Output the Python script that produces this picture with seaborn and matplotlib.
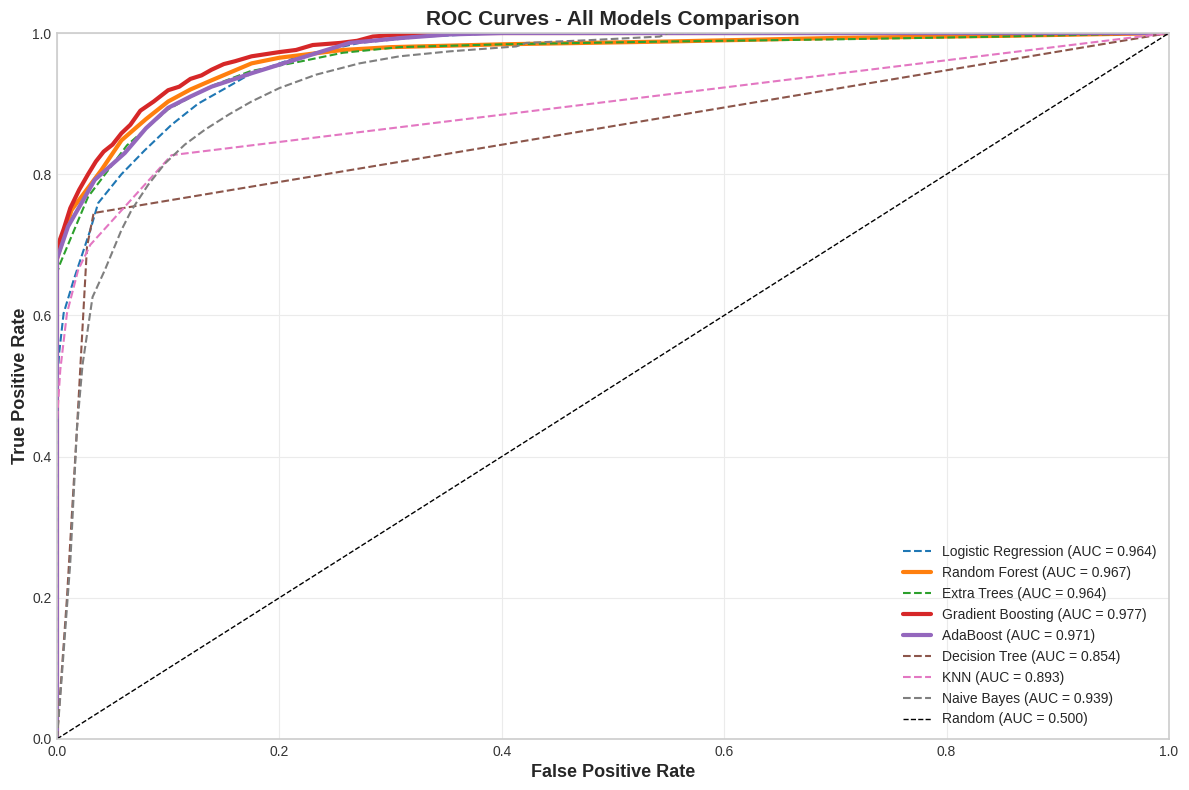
import numpy as np
import pandas as pd
import seaborn as sns
import matplotlib
matplotlib.use('Agg')
import matplotlib.pyplot as plt

# ROC points
lr_fpr = [0.0, 0.0, 0.002, 0.006, 0.015, 0.030, 0.037, 0.058, 0.079, 0.103, 0.127, 0.154, 0.175, 0.22, 0.272, 0.33, 0.40, 1.0]
lr_tpr = [0.0, 0.50, 0.547, 0.603, 0.650, 0.721, 0.759, 0.800, 0.834, 0.870, 0.900, 0.924, 0.943, 0.968, 0.986, 0.995, 1.0, 1.0]

rf_fpr = [0.0, 0.0, 0.013, 0.040, 0.058, 0.080, 0.100, 0.120, 0.139, 0.160, 0.175, 0.20, 0.257, 0.30, 0.40, 0.55, 0.70, 0.85, 1.0]
rf_tpr = [0.0, 0.68, 0.749, 0.806, 0.848, 0.878, 0.903, 0.920, 0.933, 0.947, 0.957, 0.965, 0.976, 0.980, 0.984, 0.988, 0.993, 0.996, 1.0]

et_fpr = [0.0, 0.0, 0.003, 0.028, 0.063, 0.100, 0.139, 0.174, 0.22, 0.257, 0.308, 0.40, 0.55, 0.70, 0.85, 1.0]
et_tpr = [0.0, 0.66, 0.674, 0.768, 0.841, 0.892, 0.925, 0.946, 0.960, 0.972, 0.980, 0.984, 0.988, 0.991, 0.995, 1.0]

gb_fpr = [0.0, 0.0, 0.001, 0.006, 0.012, 0.020, 0.028, 0.035, 0.042, 0.050, 0.058, 0.066, 0.075, 0.087, 0.100, 0.110, 0.120, 0.130, 0.139, 0.150, 0.160, 0.175, 0.200, 0.215, 0.230, 0.255, 0.270, 0.284, 0.31, 0.33, 1.0]
gb_tpr = [0.0, 0.69, 0.700, 0.722, 0.752, 0.778, 0.800, 0.818, 0.832, 0.842, 0.858, 0.870, 0.890, 0.903, 0.919, 0.924, 0.935, 0.940, 0.948, 0.956, 0.960, 0.967, 0.973, 0.976, 0.983, 0.986, 0.989, 0.995, 0.998, 1.0, 1.0]

ada_fpr = [0.0, 0.0, 0.010, 0.034, 0.061, 0.080, 0.100, 0.120, 0.139, 0.160, 0.175, 0.22, 0.263, 0.31, 0.353, 0.40, 1.0]
ada_tpr = [0.0, 0.68, 0.726, 0.792, 0.830, 0.865, 0.894, 0.910, 0.924, 0.935, 0.943, 0.965, 0.986, 0.993, 0.998, 1.0, 1.0]

dt_fpr = [0.0, 0.009, 0.018, 0.027, 0.033, 1.0]
dt_tpr = [0.0, 0.20, 0.44, 0.697, 0.745, 1.0]

knn_fpr = [0.0, 0.0, 0.003, 0.009, 0.019, 0.030, 0.103, 1.0]
knn_tpr = [0.0, 0.45, 0.523, 0.603, 0.664, 0.700, 0.827, 1.0]

nb_fpr = [0.0, 0.003, 0.012, 0.018, 0.023, 0.032, 0.043, 0.058, 0.067, 0.082, 0.097, 0.115, 0.133, 0.155, 0.175, 0.20, 0.233, 0.272, 0.308, 0.353, 0.413, 0.422, 0.48, 0.542, 0.55, 1.0]
nb_tpr = [0.0, 0.06, 0.25, 0.44, 0.53, 0.626, 0.664, 0.721, 0.749, 0.785, 0.815, 0.842, 0.863, 0.885, 0.903, 0.922, 0.941, 0.957, 0.967, 0.974, 0.981, 0.986, 0.990, 0.995, 1.0, 1.0]

rand_fpr = [0.0, 1.0]
rand_tpr = [0.0, 1.0]

models = ['Logistic Regression', 'Random Forest', 'Extra Trees', 'Gradient Boosting', 'AdaBoost',
          'Decision Tree', 'KNN', 'Naive Bayes', 'Random']
aucs = [0.964, 0.967, 0.964, 0.977, 0.971, 0.854, 0.893, 0.939, 0.500]
fprs = [lr_fpr, rf_fpr, et_fpr, gb_fpr, ada_fpr, dt_fpr, knn_fpr, nb_fpr, rand_fpr]
tprs = [lr_tpr, rf_tpr, et_tpr, gb_tpr, ada_tpr, dt_tpr, knn_tpr, nb_tpr, rand_tpr]

colors = ['tab:blue', 'tab:orange', 'tab:green', 'tab:red', 'tab:purple',
          'tab:brown', 'tab:pink', 'tab:gray', 'black']
styles = ['--', '-', '--', '-', '-', '--', '--', '--', '--']
widths = [1.5, 3, 1.5, 3, 3, 1.5, 1.5, 1.5, 1]

sns.set_style('whitegrid')
plt.rcParams['font.family'] = ['Liberation Sans', 'DejaVu Sans']

fig = plt.figure(figsize=(11.89, 7.90), dpi=100)
ax = fig.add_axes([0.0479, 0.0646, 0.9353, 0.8936])

for i, m in enumerate(models):
    df = pd.DataFrame({'fpr': fprs[i], 'tpr': tprs[i]})
    sns.lineplot(data=df, x='fpr', y='tpr', ax=ax, color=colors[i], linestyle=styles[i],
                 linewidth=widths[i], sort=False, estimator=None,
                 label=f'{m} (AUC = {aucs[i]:.3f})')

ax.set_xlim(0, 1)
ax.set_ylim(0, 1)
ax.grid(True, color='#ebebeb', linewidth=0.8)
for s in ax.spines.values():
    s.set_color('#cccccc')
    s.set_linewidth(1.2)
ax.tick_params(labelsize=10, colors='#333333', length=0, pad=4)
ax.set_xlabel('False Positive Rate', fontsize=13, fontweight='bold', color='#262626', labelpad=4)
ax.set_ylabel('True Positive Rate', fontsize=13, fontweight='bold', color='#262626', labelpad=2)
ax.set_title('ROC Curves - All Models Comparison', fontsize=15, fontweight='bold', color='#262626', pad=6)
ax.legend(loc='lower right', fontsize=10, frameon=False)

fig.savefig('out.png', dpi=100)
